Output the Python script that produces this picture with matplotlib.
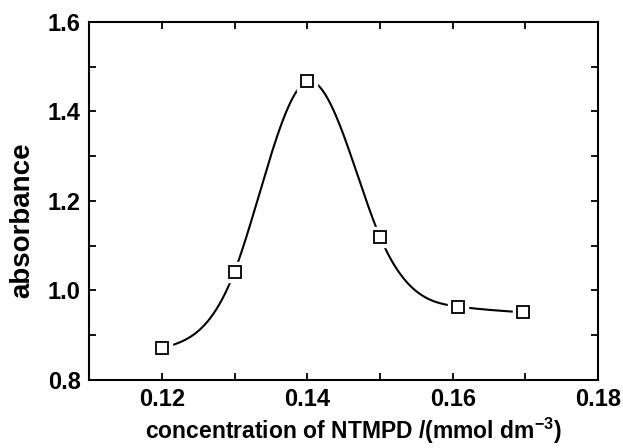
import numpy as np
import matplotlib
matplotlib.use("Agg")
import matplotlib.pyplot as plt
from matplotlib.ticker import MultipleLocator

concentration = [0.120, 0.130, 0.140, 0.150, 0.1607, 0.1697]
absorbance = [0.871, 1.042, 1.467, 1.120, 0.964, 0.951]

x_ticks = [0.12, 0.14, 0.16, 0.18]
y_ticks = [0.8, 1.0, 1.2, 1.4, 1.6]

plt.rcParams['font.family'] = ['Liberation Sans', 'DejaVu Sans']
plt.rcParams['font.weight'] = 'bold'
plt.rcParams['mathtext.fontset'] = 'custom'
plt.rcParams['mathtext.rm'] = 'Liberation Sans:bold'
plt.rcParams['mathtext.it'] = 'Liberation Sans:bold'
plt.rcParams['mathtext.bf'] = 'Liberation Sans:bold'


def natural_spline(x, y, xs):
    x = np.asarray(x, float); y = np.asarray(y, float)
    n = len(x); h = np.diff(x)
    A = np.zeros((n, n)); b = np.zeros(n)
    A[0, 0] = 1; A[-1, -1] = 1
    for i in range(1, n - 1):
        A[i, i - 1] = h[i - 1]; A[i, i] = 2 * (h[i - 1] + h[i]); A[i, i + 1] = h[i]
        b[i] = 6 * ((y[i + 1] - y[i]) / h[i] - (y[i] - y[i - 1]) / h[i - 1])
    M = np.linalg.solve(A, b)
    idx = np.clip(np.searchsorted(x, xs) - 1, 0, n - 2)
    x0 = x[idx]; x1 = x[idx + 1]; hh = h[idx]
    return (M[idx] * (x1 - xs)**3 / (6 * hh) + M[idx + 1] * (xs - x0)**3 / (6 * hh)
            + (y[idx] / hh - M[idx] * hh / 6) * (x1 - xs)
            + (y[idx + 1] / hh - M[idx + 1] * hh / 6) * (xs - x0))


fig = plt.figure(figsize=(6.23, 4.48), dpi=100)
ax = fig.add_axes([0.143, 0.152, 0.817, 0.799])

xs = np.linspace(concentration[0], concentration[-1], 400)
ax.plot(xs, natural_spline(concentration, absorbance, xs), color='black', lw=1.5, zorder=2)
ax.plot(concentration, absorbance, linestyle='none', marker='s', markersize=14,
        markerfacecolor='white', markeredgecolor='white', zorder=3)
ax.plot(concentration, absorbance, linestyle='none', marker='s', markersize=8,
        markerfacecolor='white', markeredgecolor='black', markeredgewidth=1.3, zorder=4)

ax.set_xlim(0.11, 0.18)
ax.set_ylim(0.8, 1.6)
ax.set_xticks(x_ticks)
ax.set_yticks(y_ticks)
ax.set_xticklabels([f"{v:.2f}" for v in x_ticks])
ax.set_yticklabels([f"{v:.1f}" for v in y_ticks])
ax.xaxis.set_minor_locator(MultipleLocator(0.01))
ax.yaxis.set_minor_locator(MultipleLocator(0.1))
ax.tick_params(which='both', direction='in', top=True, right=True, length=5, width=1.3)
ax.tick_params(axis='x', which='major', labelsize=17, pad=6)
ax.tick_params(axis='y', which='major', labelsize=17, pad=6)
for sp in ax.spines.values():
    sp.set_linewidth(1.5)

ax.set_xlabel("concentration of NTMPD /(mmol dm$^{-3}$)", fontsize=16.5, fontweight='bold')
ax.set_ylabel("absorbance", fontsize=20, fontweight='bold')
ax.xaxis.label.set_va('center')
ax.yaxis.label.set_va('center')
ax.xaxis.set_label_coords(0.519, -0.143)
ax.yaxis.set_label_coords(-0.132, 0.447)

fig.savefig("out.png", dpi=100)
